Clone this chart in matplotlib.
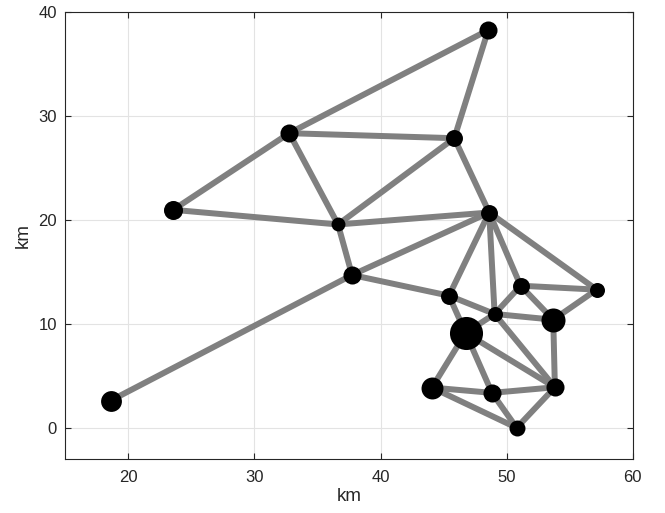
import matplotlib
matplotlib.use("Agg")
import matplotlib.pyplot as plt

plt.rcParams['font.family'] = ['Liberation Sans', 'DejaVu Sans']

node_x = [48.54, 32.76, 45.85, 23.56, 36.63, 48.62, 37.74, 45.43, 51.11,
          57.14, 49.05, 53.70, 46.75, 18.60, 44.08, 48.84, 53.83, 50.80]
node_y = [38.26, 28.34, 27.86, 20.97, 19.56, 20.71, 14.70, 12.71, 13.67,
          13.29, 10.95, 10.40, 9.13, 2.62, 3.87, 3.36, 3.90, 0.00]
node_size = [13, 13, 12.2, 13.7, 10, 12.2, 13, 12.2, 12.2,
             10.8, 10.8, 17.3, 23.8, 15, 15.8, 13, 13, 11.5]

edges = [(1, 2), (1, 3), (2, 3), (2, 4), (2, 5), (3, 5), (3, 6), (4, 5),
         (5, 6), (5, 7), (7, 14), (7, 6), (7, 8), (8, 6), (8, 11), (8, 13),
         (6, 11), (6, 9), (6, 10), (9, 10), (9, 11), (9, 12), (10, 12),
         (11, 12), (11, 13), (11, 17), (12, 17), (13, 17), (13, 15),
         (13, 16), (15, 16), (15, 18), (16, 17), (16, 18), (17, 18)]

x_ticks = [20, 30, 40, 50, 60]
y_ticks = [0, 10, 20, 30, 40]

fig = plt.figure(figsize=(6.65, 5.13), dpi=100)
ax = fig.add_axes([0.0982, 0.1053, 0.8532, 0.8713])

for a, b in edges:
    ax.plot([node_x[a - 1], node_x[b - 1]], [node_y[a - 1], node_y[b - 1]],
            color='#808080', lw=4.3, solid_capstyle='butt', zorder=2)

for x, y, s in zip(node_x, node_y, node_size):
    ax.plot(x, y, 'o', color='black', markersize=s, markeredgewidth=0, zorder=3)

ax.set_xlim(15, 60)
ax.set_ylim(-3, 40)
ax.set_xticks(x_ticks)
ax.set_yticks(y_ticks)
ax.grid(True, color='#e3e3e3', lw=0.8, zorder=0)
ax.set_axisbelow(True)
ax.tick_params(direction='in', top=True, right=True, labelsize=12,
               colors='#262626', length=4.5, width=0.8)
ax.tick_params(axis='x', pad=8)
ax.tick_params(axis='y', pad=6)
for sp in ax.spines.values():
    sp.set_color('#262626')
    sp.set_linewidth(0.8)
ax.set_xlabel('km', fontsize=13.5, color='#262626', labelpad=2)
ax.set_ylabel('km', fontsize=13.5, color='#262626', labelpad=5)

fig.savefig('out.png', dpi=100)
